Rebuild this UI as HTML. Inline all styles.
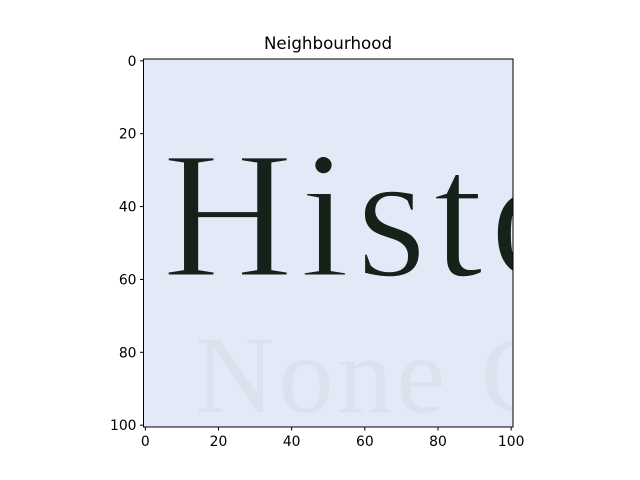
<!DOCTYPE html>
<html><head><meta charset="utf-8"><style>
body{margin:0;background:#fff;}
svg{display:block;font-family:"DejaVu Sans","Liberation Sans",sans-serif;}
</style></head><body>
<svg width="640" height="480" viewBox="0 0 640 480">
<defs><clipPath id="ax"><rect x="143.5" y="59" width="369.5" height="368"/></clipPath></defs>
<text x="328" y="49" font-size="16.7" text-anchor="middle">Neighbourhood</text>
<g clip-path="url(#ax)">
<rect x="143.5" y="59" width="369.5" height="368" fill="#e4e9f7"/>
<text x="162" y="276" font-family="Liberation Serif, serif" font-size="182" fill="#14221a" stroke="#e4e9f7" stroke-width="3" letter-spacing="6">Histo</text>
<text x="195" y="412" font-family="Liberation Serif, serif" font-size="110" fill="#dde1ee" letter-spacing="4">None C</text>
</g>
<rect x="143.5" y="59" width="369.5" height="368" fill="none" stroke="#000" stroke-width="1"/>
<g id="xt"></g>
<g id="yt"></g>
</svg>
<script>
const xTicks=[0,20,40,60,80,100];
const yTicks=[0,20,40,60,80,100];
const x0=143.5,x1=513,y0=59,y1=427,lo=-0.5,hi=100.5;
const sx=v=>x0+(v-lo)/(hi-lo)*(x1-x0);
const sy=v=>y0+(v-lo)/(hi-lo)*(y1-y0);
const NS="http://www.w3.org/2000/svg";
const xg=document.getElementById('xt'),yg=document.getElementById('yt');
xTicks.forEach(t=>{
 const l=document.createElementNS(NS,'line');
 
 
 l.setAttribute('x1',sx(t));l.setAttribute('x2',sx(t));l.setAttribute('y1',y1);l.setAttribute('y2',y1+3.5);l.setAttribute('stroke','#000');
 xg.appendChild(l);
 const tx=document.createElementNS(NS,'text');
 
 
 tx.setAttribute('x',sx(t));tx.setAttribute('y',y1+19);tx.setAttribute('font-size','13.9');tx.setAttribute('text-anchor','middle');
 tx.textContent=t;xg.appendChild(tx);
});
yTicks.forEach(t=>{
 const l=document.createElementNS(NS,'line');
 
 
 l.setAttribute('x1',x0-3.5);l.setAttribute('x2',x0);l.setAttribute('y1',sy(t));l.setAttribute('y2',sy(t));l.setAttribute('stroke','#000');
 yg.appendChild(l);
 const tx=document.createElementNS(NS,'text');
 
 
 tx.setAttribute('x',x0-7);tx.setAttribute('y',sy(t)+5);tx.setAttribute('font-size','13.9');tx.setAttribute('text-anchor','end');
 tx.textContent=t;yg.appendChild(tx);
});
</script>
</body></html>
